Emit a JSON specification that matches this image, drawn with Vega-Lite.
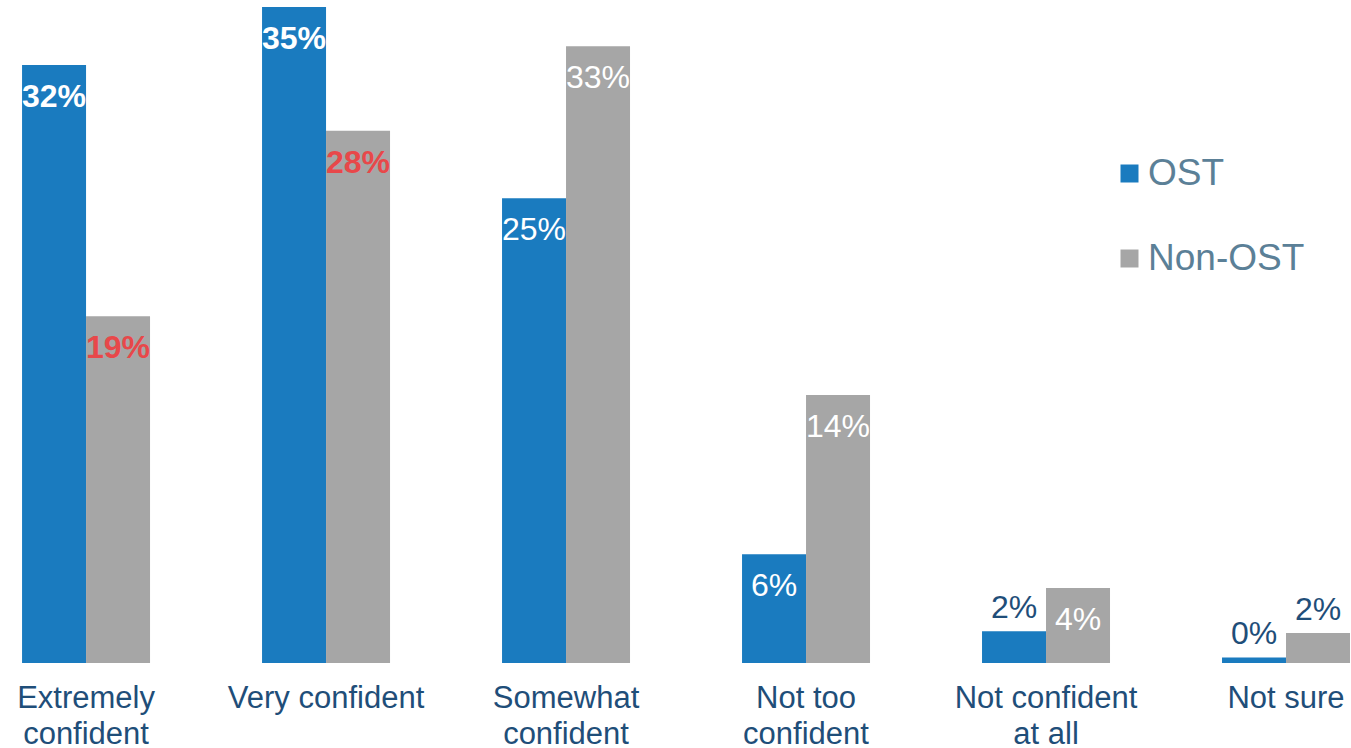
{
  "$schema": "https://vega.github.io/schema/vega-lite/v6.json",
  "width": 1351,
  "height": 656,
  "autosize": "none",
  "padding": {"left": 0, "top": 7, "right": 0, "bottom": 85},
  "background": "white",
  "config": {"view": {"stroke": null}, "font": "Liberation Sans"},
  "data": {
    "values": [
      {"category": "Extremely confident", "group": "OST", "value": 31.9, "label": "32%", "sig": true},
      {"category": "Extremely confident", "group": "Non-OST", "value": 18.5, "label": "19%", "sig": true},
      {"category": "Very confident", "group": "OST", "value": 35.0, "label": "35%", "sig": true},
      {"category": "Very confident", "group": "Non-OST", "value": 28.4, "label": "28%", "sig": true},
      {"category": "Somewhat confident", "group": "OST", "value": 24.8, "label": "25%", "sig": false},
      {"category": "Somewhat confident", "group": "Non-OST", "value": 32.9, "label": "33%", "sig": false},
      {"category": "Not too confident", "group": "OST", "value": 5.8, "label": "6%", "sig": false},
      {"category": "Not too confident", "group": "Non-OST", "value": 14.3, "label": "14%", "sig": false},
      {"category": "Not confident at all", "group": "OST", "value": 1.7, "label": "2%", "sig": false},
      {"category": "Not confident at all", "group": "Non-OST", "value": 4.0, "label": "4%", "sig": false},
      {"category": "Not sure", "group": "OST", "value": 0.3, "label": "0%", "sig": false},
      {"category": "Not sure", "group": "Non-OST", "value": 1.6, "label": "2%", "sig": false}
    ]
  },
  "encoding": {
    "x": {
      "field": "category",
      "type": "nominal",
      "sort": null,
      "scale": {"paddingInner": 0.4667, "paddingOuter": 0.048, "align": 0.957},
      "axis": {
        "title": null,
        "domain": false,
        "ticks": false,
        "labelAngle": 0,
        "labelFont": "Liberation Sans",
        "labelFontSize": 31,
        "labelColor": "#1F4E79",
        "labelPadding": 20,
        "labelLineHeight": 36,
        "labelBaseline": "top",
        "labelLimit": 400,
        "labelExpr": "datum.label == 'Extremely confident' ? ['Extremely', 'confident'] : datum.label == 'Somewhat confident' ? ['Somewhat', 'confident'] : datum.label == 'Not too confident' ? ['Not too', 'confident'] : datum.label == 'Not confident at all' ? ['Not confident', 'at all'] : datum.label"
      }
    },
    "xOffset": {
      "field": "group",
      "type": "nominal",
      "sort": ["OST", "Non-OST"],
      "scale": {"paddingInner": 0, "paddingOuter": 0}
    },
    "y": {
      "field": "value",
      "type": "quantitative",
      "scale": {"domain": [0, 35], "nice": false, "zero": true},
      "axis": null
    }
  },
  "layer": [
    {
      "mark": {"type": "bar"},
      "encoding": {
        "color": {
          "field": "group",
          "type": "nominal",
          "sort": ["OST", "Non-OST"],
          "scale": {"domain": ["OST", "Non-OST"], "range": ["#1A7BBF", "#A6A6A6"]},
          "legend": {
            "title": null,
            "orient": "none",
            "legendX": 1111,
            "legendY": 148,
            "padding": 0,
            "symbolType": "square",
            "symbolSize": 324,
            "symbolStrokeWidth": 0,
            "symbolOffset": 0,
            "labelFont": "Liberation Sans",
            "labelFontSize": 37,
            "labelColor": "#5B8097",
            "labelOffset": 0,
            "rowPadding": 47,
            "labelLimit": 300
          }
        }
      }
    },
    {
      "transform": [{"filter": "datum.value >= 3 && !datum.sig"}],
      "mark": {"type": "text", "baseline": "middle", "dy": 32, "fontSize": 32, "font": "Liberation Sans", "color": "white"},
      "encoding": {"text": {"field": "label"}}
    },
    {
      "transform": [{"filter": "datum.sig"}],
      "mark": {"type": "text", "baseline": "middle", "dy": 32, "fontSize": 32, "font": "Liberation Sans", "fontWeight": "bold"},
      "encoding": {
        "text": {"field": "label"},
        "color": {
          "condition": {"test": "datum.group == 'Non-OST'", "value": "#E8484A"},
          "value": "white"
        }
      }
    },
    {
      "transform": [{"filter": "datum.value < 3"}],
      "mark": {"type": "text", "baseline": "bottom", "dy": -6, "fontSize": 32, "font": "Liberation Sans", "color": "#1F4E79"},
      "encoding": {"text": {"field": "label"}}
    }
  ]
}
